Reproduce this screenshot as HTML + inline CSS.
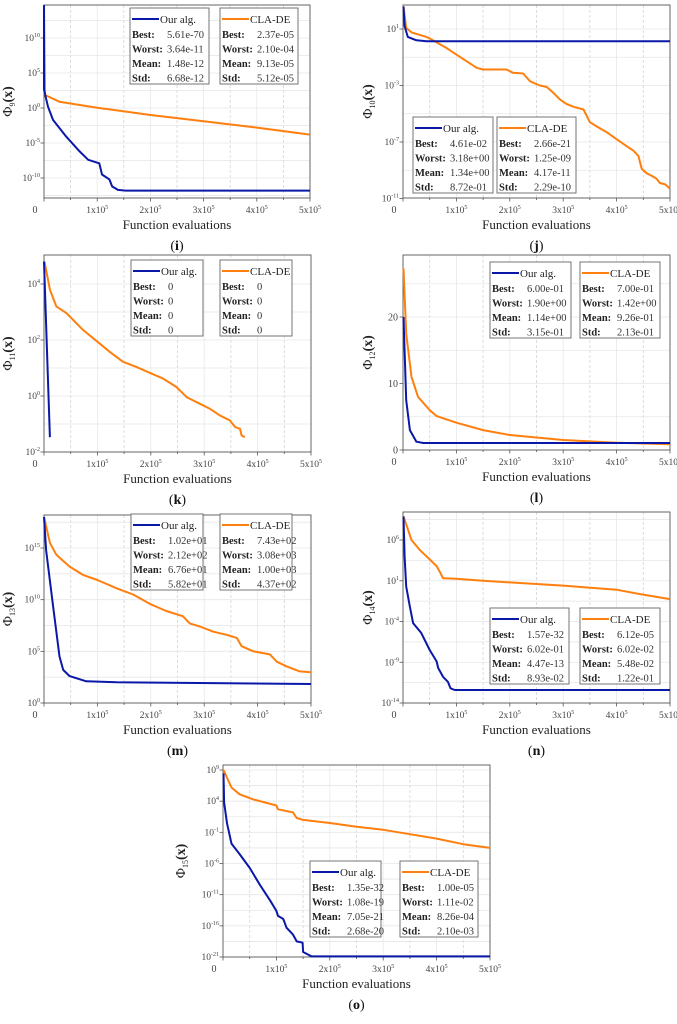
<!DOCTYPE html>
<html><head><meta charset="utf-8">
<style>
html,body{margin:0;padding:0;background:#fff;}
svg{display:block;font-family:"Liberation Serif",serif;}
</style></head>
<body>
<svg id="fig" width="677" height="1024" viewBox="0 0 677 1024" xmlns="http://www.w3.org/2000/svg"></svg>
<script>
// Data: [x in 1e5 evaluations, value (log10 for log axes)]
const iBlue=[[0,14.7],[0,2.6],[0.075,0.19],[0.17,-1.7],[0.42,-4.1],[0.67,-6.2],[0.83,-7.4],[1.04,-7.9],[1.09,-9.5],[1.23,-10.2],[1.28,-11.2],[1.39,-11.7],[1.54,-11.8],[5,-11.8]];
const iOrange=[[0,14.7],[0.02,1.85],[0.29,0.9],[1,0.05],[2,-1],[3,-1.9],[4,-2.8],[5,-3.8]];
const jBlue=[[0.01,2.6],[0.03,1.2],[0.09,0.44],[0.25,0.2],[0.44,0.13],[5,0.13]];
const jOrange=[[0.01,2.6],[0.06,1.07],[0.16,0.76],[0.44,0.44],[0.56,0.2],[0.81,-0.34],[1,-0.81],[1.19,-1.28],[1.38,-1.75],[1.5,-1.87],[1.94,-1.87],[2.06,-2.1],[2.25,-2.15],[2.38,-2.7],[2.56,-3],[2.69,-3.1],[2.81,-3.5],[2.94,-4],[3.06,-4.3],[3.19,-4.5],[3.38,-4.7],[3.5,-5.6],[3.63,-5.9],[3.81,-6.3],[4,-6.8],[4.19,-7.3],[4.31,-7.6],[4.41,-8],[4.47,-8.9],[4.56,-9.2],[4.66,-9.4],[4.75,-9.6],[4.81,-9.9],[4.91,-10],[5,-10.3]];
const kBlue=[[0,4.8],[0.11,-1.47]];
const kOrange=[[0.01,4.8],[0.11,3.8],[0.23,3.2],[0.42,2.96],[0.73,2.36],[1,1.94],[1.23,1.58],[1.48,1.22],[1.73,1.04],[1.98,0.83],[2.23,0.62],[2.48,0.32],[2.67,-0.04],[2.92,-0.28],[3.11,-0.46],[3.29,-0.69],[3.48,-0.87],[3.58,-1.11],[3.67,-1.17],[3.7,-1.41],[3.76,-1.47]];
const lBlue=[[0.01,20],[0.06,7.5],[0.13,3],[0.25,1.25],[0.38,1.05],[5,1.05]];
const lOrange=[[0.01,27.3],[0.06,17.5],[0.16,11],[0.28,8],[0.5,6],[0.63,5.1],[1,4.1],[1.5,3],[2,2.25],[3,1.5],[4,1.1],[5,0.85]];
const mBlue=[[0,18],[0.04,14.8],[0.17,9.35],[0.29,4.5],[0.36,3.2],[0.48,2.6],[0.79,2.1],[1.36,2],[5,1.84]];
const mOrange=[[0,18],[0.11,15.5],[0.23,14.35],[0.48,13.2],[0.73,12.4],[1,11.9],[1.36,11.1],[1.67,10.5],[1.98,9.6],[2.29,8.9],[2.6,8.4],[2.73,7.7],[2.92,7.4],[3.17,6.9],[3.42,6.6],[3.61,6.3],[3.7,5.5],[3.92,5],[4.23,4.7],[4.36,4],[4.54,3.55],[4.79,3.06],[5,2.97]];
const nBlue=[[0.01,8.9],[0.03,4],[0.06,0.3],[0.13,-2.2],[0.19,-4.2],[0.34,-5.4],[0.5,-7.5],[0.63,-8.9],[0.66,-9.7],[0.75,-10.8],[0.84,-11.4],[0.89,-12.2],[0.97,-12.4],[5,-12.4]];
const nOrange=[[0.01,8.9],[0.16,6],[0.31,4.8],[0.47,3.8],[0.63,2.8],[0.69,2.1],[0.75,1.3],[1,1.25],[1.5,1],[2,0.8],[3,0.4],[4,-0.1],[4.44,-0.64],[5,-1.25]];
const oBlue=[[0.01,8.45],[0.02,3.8],[0.075,0.47],[0.16,-2.8],[0.31,-4.5],[0.5,-6.7],[0.69,-9.4],[0.88,-11.9],[1,-13.6],[1.03,-14.4],[1.13,-14.9],[1.19,-16.3],[1.31,-17.4],[1.38,-18.5],[1.49,-18.7],[1.5,-20.2],[1.66,-20.9],[5,-20.9]];
const oOrange=[[0.01,9],[0.16,6.2],[0.31,5.1],[0.56,4.3],[1,3.3],[1.03,2.7],[1.31,2.2],[1.38,1.3],[1.5,1],[2,0.5],[2.5,-0.1],[3,-0.6],[3.5,-1.3],[4,-2],[4.5,-2.9],[5,-3.5]];
// Tick labels
const iTicks=[10,5,0,-5,-10];
const jTicks=[1,-3,-7,-11];
const kTicks=[4,2,0,-2];
const lTicks=[20,10,0];
const mTicks=[15,10,5,0];
const nTicks=[6,1,-4,-9,-14];
const oTicks=[9,4,-1,-6,-11,-16,-21];
const xTickLabels=["1x10","2x10","3x10","4x10","5x10"];
// Legend stats
const iStats=[["5.61e-70","3.64e-11","1.48e-12","6.68e-12"],["2.37e-05","2.10e-04","9.13e-05","5.12e-05"]];
const jStats=[["4.61e-02","3.18e+00","1.34e+00","8.72e-01"],["2.66e-21","1.25e-09","4.17e-11","2.29e-10"]];
const kStats=[["0","0","0","0"],["0","0","0","0"]];
const lStats=[["6.00e-01","1.90e+00","1.14e+00","3.15e-01"],["7.00e-01","1.42e+00","9.26e-01","2.13e-01"]];
const mStats=[["1.02e+01","2.12e+02","6.76e+01","5.82e+01"],["7.43e+02","3.08e+03","1.00e+03","4.37e+02"]];
const nStats=[["1.57e-32","6.02e-01","4.47e-13","8.93e-02"],["6.12e-05","6.02e-02","5.48e-02","1.22e-01"]];
const oStats=[["1.35e-32","1.08e-19","7.05e-21","2.68e-20"],["1.00e-05","1.11e-02","8.26e-04","2.10e-03"]];

const NS="http://www.w3.org/2000/svg";
const svg=document.getElementById('fig');
function mk(tag,attrs,parent,text){const e=document.createElementNS(NS,tag);for(const k in attrs)e.setAttribute(k,attrs[k]);if(text!==undefined)e.textContent=text;(parent||svg).appendChild(e);return e;}

const panels=[
 {id:'i',idx:9,L:44,R:310,T:5,B:198,log:true,v0:-10,p0:178,v1:10,p1:38,ticks:iTicks,blue:iBlue,orange:iOrange,stats:iStats,lg:[130,209,220,298,8],yt:12},
 {id:'j',idx:10,L:403,R:670,T:5,B:198,log:true,v0:-11,p0:198.5,v1:1,p1:29,ticks:jTicks,blue:jBlue,orange:jOrange,stats:jStats,lg:[413,493,497,576,117],yt:372},
 {id:'k',idx:11,L:44,R:311,T:255,B:452,log:true,v0:-2,p0:452,v1:4,p1:284,ticks:kTicks,blue:kBlue,orange:kOrange,stats:kStats,lg:[131,203,220,292,260],yt:12},
 {id:'l',idx:12,L:403,R:670,T:255,B:450,log:false,v0:0,p0:450,v1:20,p1:317,ticks:lTicks,blue:lBlue,orange:lOrange,stats:lStats,lg:[490,571,580,660,262],yt:372},
 {id:'m',idx:13,L:44,R:311,T:515,B:703,log:true,v0:0,p0:703,v1:15,p1:548,ticks:mTicks,blue:mBlue,orange:mOrange,stats:mStats,lg:[131,203,220,292,514],yt:12},
 {id:'n',idx:14,L:403,R:670,T:512,B:703,log:true,v0:-14,p0:703,v1:6,p1:540,ticks:nTicks,blue:nBlue,orange:nOrange,stats:nStats,lg:[490,569,580,660,608],yt:372},
 {id:'o',idx:15,L:223,R:490,T:765,B:957,log:true,v0:-21,p0:957,v1:9,p1:770,ticks:oTicks,blue:oBlue,orange:oOrange,stats:oStats,lg:[310,381,400,478,861],yt:185}
];

panels.forEach(p=>{
 const g=mk('g',{});
 
 
 const xs=v=>p.L+(p.R-p.L)*v/5;
 const ys=v=>p.p0+(p.p1-p.p0)*(v-p.v0)/(p.v1-p.v0);
 // grid
 const grid=mk('g',{},g);
 
 
 for(let k=1;k<10;k++){
  const x=xs(k*0.5);
  mk('line',{x1:x,x2:x,y1:p.T,y2:p.B,stroke:k%2?'#d4d4d4':'#e8e8e8','stroke-width':0.8,'stroke-dasharray':k%2?'3,2':'none'},grid);
 }
 const tk=p.ticks;
 const step=(tk[0]-tk[1]);
 for(let t=tk[tk.length-1]-step;t<=tk[0]+step;t+=step/2){
  const y=ys(t);
  if(y>p.T+1&&y<p.B-1) mk('line',{x1:p.L,x2:p.R,y1:y,y2:y,stroke:'#e6e6e6','stroke-width':0.8},grid);
 }
 // frame
 const fr=mk('rect',{x:p.L,y:p.T,width:p.R-p.L,height:p.B-p.T,fill:'none',stroke:'#555','stroke-width':0.9},g);
 
 
 // x ticks
 for(let k=0;k<=10;k++){const x=xs(k*0.5);mk('line',{x1:x,x2:x,y1:p.B,y2:p.B+(k%2?2:3.5),stroke:'#555','stroke-width':0.8},g);}
 const z=mk('text',{x:p.L-9,y:p.B+15,'font-size':10,fill:'#444','text-anchor':'middle'},g,'0');
 
 
 xTickLabels.forEach((lab,i)=>{
  const t=mk('text',{x:xs(i+1),y:p.B+15,'font-size':9.5,fill:'#444','text-anchor':'middle'},g,lab);
  mk('tspan',{dy:-4,'font-size':6},t,'5');
  
  
 });
 const xt=mk('text',{x:(p.L+p.R)/2,y:p.B+31,'font-size':13,fill:'#222','text-anchor':'middle'},g,'Function evaluations');
 
 
 const pl=mk('text',{x:(p.L+p.R)/2,y:p.B+52,'font-size':14,fill:'#111','text-anchor':'middle'},g,'(');
 mk('tspan',{'font-weight':'bold'},pl,p.id);
 mk('tspan',{},pl,')');
 
 
 // y ticks
 tk.forEach(t=>{
  const y=ys(t);
  mk('line',{x1:p.L-3.5,x2:p.L,y1:y,y2:y,stroke:'#555','stroke-width':0.8},g);
  let e;
  if(p.log){e=mk('text',{x:p.L-4,y:y+3,'font-size':9.5,fill:'#444','text-anchor':'end'},g,'10');mk('tspan',{dy:-4,'font-size':6},e,String(t));}
  else e=mk('text',{x:p.L-5,y:y+3.5,'font-size':10,fill:'#444','text-anchor':'end'},g,String(t));
  
  
 });
 const cy=(p.T+p.B)/2;
 const yt=mk('text',{x:p.yt,y:cy,'font-size':14,fill:'#222','text-anchor':'middle',transform:'rotate(-90 '+p.yt+' '+cy+')'},g,'Φ');
 mk('tspan',{dy:3,'font-size':8},yt,String(p.idx));
 mk('tspan',{dy:-3,'font-weight':'bold'},yt,'(x)');
 
 
 // series
 [['orange','#ff7f0e',p.orange],['blue','#0a18a8',p.blue]].forEach(([nm,col,d])=>{
  const pts=d.map(q=>xs(q[0]).toFixed(1)+','+Math.max(p.T,ys(q[1])).toFixed(1)).join(' ');
  const s=mk('polyline',{points:pts,fill:'none',stroke:col,'stroke-width':2,'stroke-linejoin':'round'},g);
  
  
 });
 // legends
 const [a1,a2,b1,b2,ly]=p.lg;
 [[a1,a2,'Our alg.','#0a18a8',p.stats[0]],[b1,b2,'CLA-DE','#ff7f0e',p.stats[1]]].forEach(([x1,x2,name,col,st],li)=>{
  const lg=mk('g',{},g);
  
  
  mk('rect',{x:x1,y:ly,width:x2-x1,height:76,fill:'#fff',stroke:'#666','stroke-width':0.9},lg);
  mk('line',{x1:x1+2,x2:x1+29,y1:ly+11,y2:ly+11,stroke:col,'stroke-width':2},lg);
  mk('text',{x:x1+30,y:ly+15,'font-size':11,fill:'#222'},lg,name);
  ['Best:','Worst:','Mean:','Std:'].forEach((lab,r)=>{
   const yy=ly+30+r*14.5;
   mk('text',{x:x1+2,y:yy,'font-size':10.5,'font-weight':'bold',fill:'#222'},lg,lab);
   mk('text',{x:x1+37,y:yy,'font-size':10.5,fill:'#333'},lg,st[r]);
  });
 });
});
</script>
</body></html>
